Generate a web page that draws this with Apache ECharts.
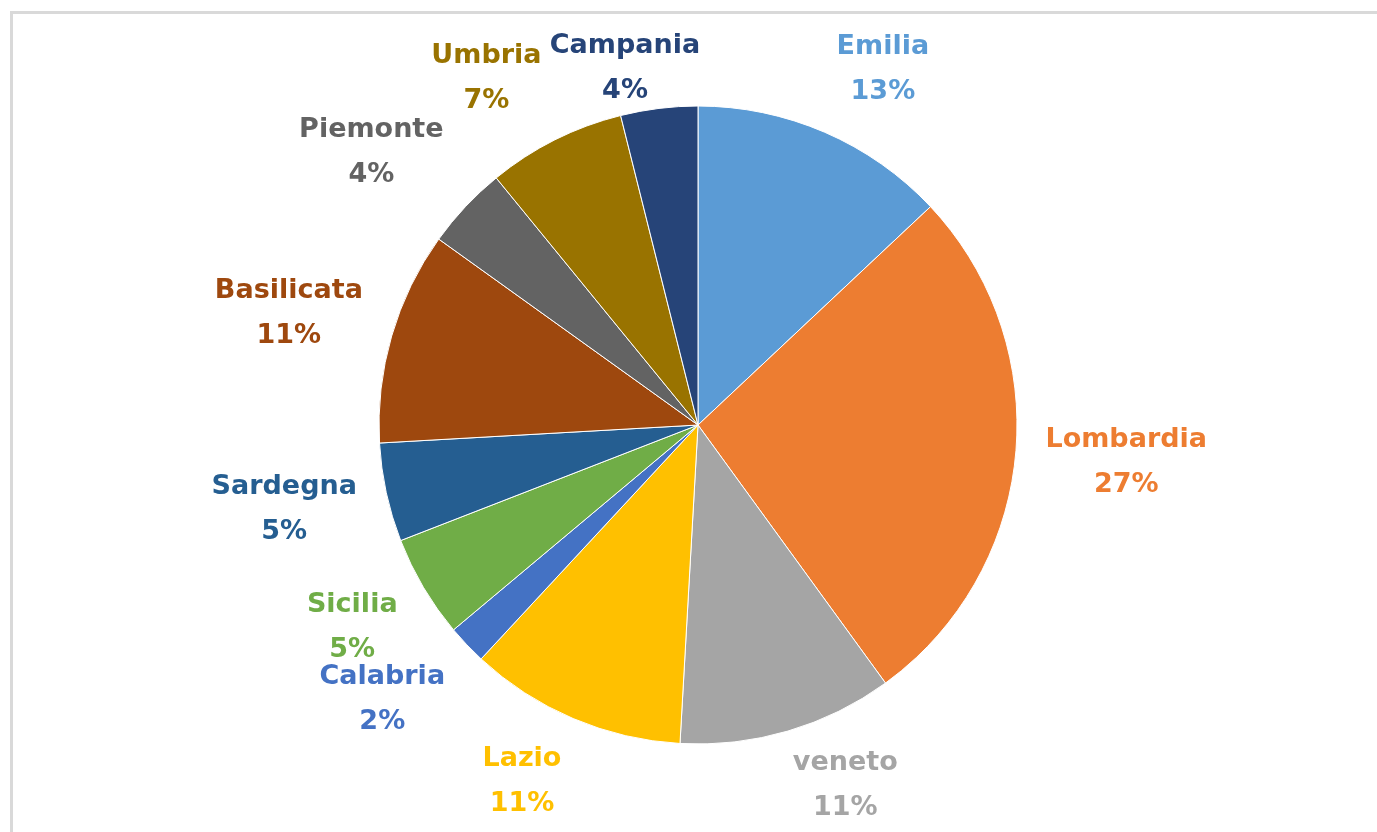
<!DOCTYPE html>
<html>
<head>
<meta charset="utf-8">
<script src="https://cdn.jsdelivr.net/npm/echarts@6/dist/echarts.min.js"></script>
<style>
  html, body { margin: 0; padding: 0; background: #fff; overflow: hidden; }
  #frame {
    position: absolute; left: 10px; top: 11px; width: 1400px; height: 900px;
    border-top: 3px solid #d9d9d9; border-left: 3px solid #d9d9d9;
  }
  #chart { position: absolute; left: 0; top: 0; width: 1377px; height: 832px; }
</style>
</head>
<body>
<div id="frame"></div>
<div id="chart"></div>
<script>
// regioni, in senso orario partendo dall'alto
const regions = ['Emilia', 'Lombardia', 'veneto', 'Lazio', 'Calabria', 'Sicilia',
  'Sardegna', 'Basilicata', 'Piemonte', 'Umbria', 'Campania']
const shares = [13, 27, 10.9, 11, 2, 5.2, 5, 10.8, 4.2, 7, 3.9]
const colors = ['#5B9BD5', '#ED7D31', '#A5A5A5', '#FFC000', '#4472C4', '#70AD47',
  '#255E91', '#9E480E', '#636363', '#997300', '#264478']

const CX = 698, CY = 425, R = 319
const GAP = 30, HALF_H = 35
const TOP_Y = 68, BOTTOM_Y = 785 // le etichette restano dentro l'area del grafico

const total = shares.reduce((a, b) => a + b, 0)
const midAngles = []
let acc = 0
shares.forEach((v) => {
  midAngles.push(((acc + v / 2) / total) * 2 * Math.PI)
  acc += v
})

const clamp = (v, lo = -1, hi = 1) => Math.max(lo, Math.min(hi, v))

const chart = echarts.init(document.getElementById('chart'))
chart.setOption({
  animation: false,
  series: [{
    type: 'pie',
    center: [CX, CY],
    radius: R,
    startAngle: 90,
    clockwise: true,
    itemStyle: { borderColor: '#fff', borderWidth: 1 },
    label: {
      show: true,
      position: 'outside',
      fontFamily: 'DejaVu Sans',
      fontWeight: 'bold',
      fontSize: 27,
      lineHeight: 45,
      align: 'center',
      formatter: (p) => p.name + '\n' + Math.round(p.percent) + '%',
    },
    labelLine: { show: false },
    // etichette in stile Excel: fuori dal bordo, lungo l'angolo medio
    labelLayout: (params) => {
      const a = midAngles[params.dataIndex]
      const ux = Math.sin(a), uy = -Math.cos(a)
      const hx = params.labelRect.width / 2
      const x = CX + ux * (R + GAP) + hx * clamp(ux * 3.3)
      const y = CY + uy * (R + GAP) + HALF_H * clamp(uy * 1.4)
      return {
        x,
        y: clamp(y, TOP_Y, BOTTOM_Y),
        align: 'center',
        verticalAlign: 'middle',
      }
    },
    data: regions.map((name, i) => ({
      name,
      value: shares[i],
      itemStyle: { color: colors[i] },
      label: { color: colors[i] },
    })),
  }],
})
</script>
</body>
</html>
